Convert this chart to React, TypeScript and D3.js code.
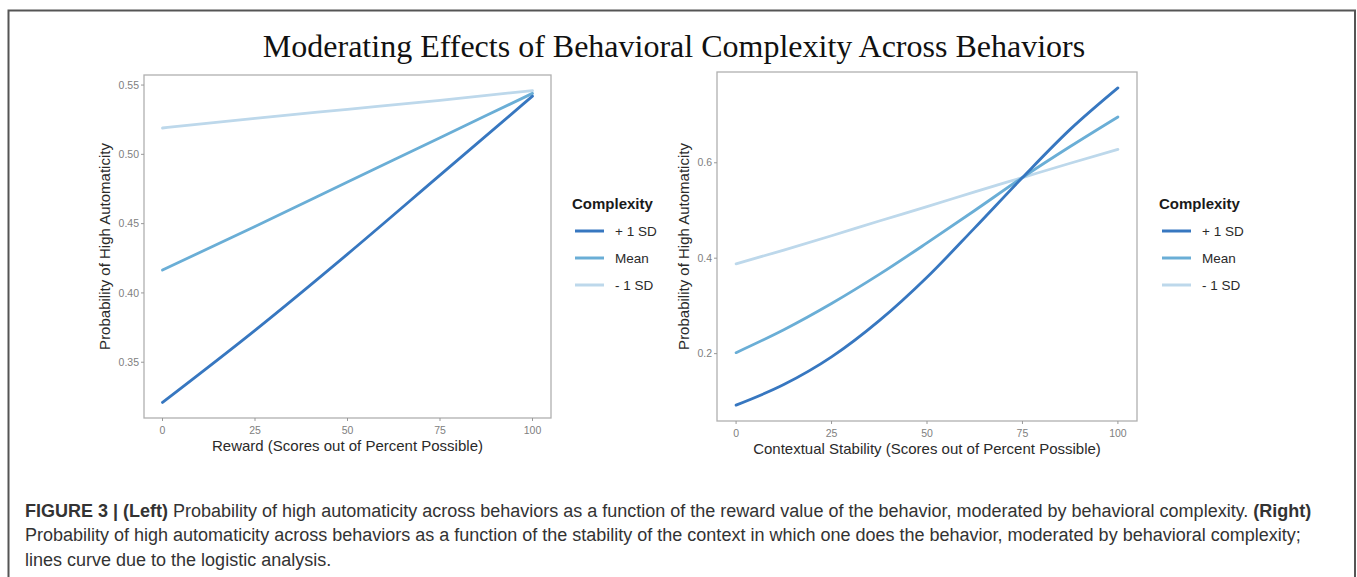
import React from "react"
import * as d3 from "d3"

// left panel: reward
const rewardX = [0, 25, 50, 75, 100]
const rewardPlus1 = [0.321, 0.373, 0.428, 0.485, 0.542]
const rewardMean = [0.4165, 0.448, 0.48, 0.512, 0.544]
const rewardMinus1 = [0.519, 0.526, 0.5325, 0.539, 0.546]
const rewardYTicks = [0.35, 0.4, 0.45, 0.5, 0.55]

// right panel: contextual stability
const stabilityX = [0, 12.5, 25, 37.5, 50, 62.5, 75, 87.5, 100]
const stabilityPlus1 = [0.092, 0.135, 0.193, 0.269, 0.36, 0.4636, 0.569, 0.67, 0.757]
const stabilityMean = [0.202, 0.25, 0.305, 0.366, 0.432, 0.5, 0.569, 0.634, 0.696]
const stabilityMinus1 = [0.388, 0.417, 0.447, 0.478, 0.508, 0.539, 0.569, 0.599, 0.628]
const stabilityYTicks = [0.2, 0.4, 0.6]

const xTicks = [0, 25, 50, 75, 100]
const levels = ["+ 1 SD", "Mean", "- 1 SD"]
const levelColors = ["#3777c0", "#6aaed6", "#bdd8eb"]

const sans = "Liberation Sans, Arial, Helvetica, sans-serif"

interface PanelProps {
  left: number
  right: number
  top: number
  bottom: number
  xs: number[]
  series: number[][]
  yTicks: number[]
  yFormat: string
  xTitle: string
  yTitleX: number
  legendX: number
}

const Panel: React.FC<PanelProps> = ({ left, right, top, bottom, xs, series, yTicks, yFormat, xTitle, yTitleX, legendX }) => {
  const all = series.flat()
  const lo = d3.min(all)!
  const hi = d3.max(all)!
  const pad = (hi - lo) * 0.05
  const x = d3.scaleLinear().domain([-5, 105]).range([left, right])
  const y = d3.scaleLinear().domain([lo - pad, hi + pad]).range([bottom, top])
  const fmt = d3.format(yFormat)
  const line = d3
    .line<number>()
    .x((_, i) => x(xs[i]))
    .y((d) => y(d))
    .curve(d3.curveMonotoneX)

  return (
    <g fontFamily={sans}>
      <rect x={left} y={top} width={right - left} height={bottom - top} fill="white" stroke="#b0b0b0" strokeWidth={1.3} />
      {series.slice().reverse().map((s, k) => {
        const i = series.length - 1 - k
        return <path key={i} d={line(s) ?? ""} fill="none" stroke={levelColors[i]} strokeWidth={2.8} strokeLinecap="round" />
      })}
      {yTicks.map((t) => (
        <g key={t}>
          <line x1={left - 3} x2={left} y1={y(t)} y2={y(t)} stroke="#999" strokeWidth={1} />
          <text x={left - 5} y={y(t)} dy="0.35em" textAnchor="end" fontSize={10.5} fill="#808080">{fmt(t)}</text>
        </g>
      ))}
      {xTicks.map((t) => (
        <g key={t}>
          <line x1={x(t)} x2={x(t)} y1={bottom} y2={bottom + 3} stroke="#999" strokeWidth={1} />
          <text x={x(t)} y={bottom + 12} dy="0.35em" textAnchor="middle" fontSize={10.5} fill="#808080">{t}</text>
        </g>
      ))}
      <text x={(x(0) + x(100)) / 2} y={bottom + 28} dy="0.35em" textAnchor="middle" fontSize={15} fill="#2a2a2a">{xTitle}</text>
      <text
        transform={`translate(${yTitleX},${(top + bottom) / 2}) rotate(-90)`}
        dy="0.35em"
        textAnchor="middle"
        fontSize={15}
        fill="#2a2a2a"
      >
        Probability of High Automaticity
      </text>
      <text x={legendX - 3} y={204} dy="0.35em" fontSize={15} fontWeight="bold" fill="#1a1a1a">Complexity</text>
      {levels.map((lv, i) => (
        <g key={lv}>
          <line x1={legendX} x2={legendX + 29} y1={231 + i * 27} y2={231 + i * 27} stroke={levelColors[i]} strokeWidth={3} />
          <text x={legendX + 40} y={231 + i * 27} dy="0.35em" fontSize={13.5} fill="#2a2a2a">{lv}</text>
        </g>
      ))}
    </g>
  )
}

const App: React.FC = () => {
  return (
    <svg
      width={1357}
      height={577}
      style={{ position: "absolute", left: 0, top: 0, background: "white" }}
    >
      <path d="M8.5,600 V10.5 H1355 V600" fill="none" stroke="#555" strokeWidth={2} />
      <text
        x={674}
        y={57}
        textAnchor="middle"
        fontFamily="Liberation Serif, Times New Roman, serif"
        fontSize={32}
        fill="#111"
      >
        Moderating Effects of Behavioral Complexity Across Behaviors
      </text>
      <Panel
        left={144}
        right={551}
        top={75}
        bottom={418}
        xs={rewardX}
        series={[rewardPlus1, rewardMean, rewardMinus1]}
        yTicks={rewardYTicks}
        yFormat=".2f"
        xTitle="Reward (Scores out of Percent Possible)"
        yTitleX={105}
        legendX={575}
      />
      <Panel
        left={717}
        right={1137}
        top={72}
        bottom={421}
        xs={stabilityX}
        series={[stabilityPlus1, stabilityMean, stabilityMinus1]}
        yTicks={stabilityYTicks}
        yFormat=".1f"
        xTitle="Contextual Stability (Scores out of Percent Possible)"
        yTitleX={684}
        legendX={1162}
      />
      <g fontFamily={sans} fontSize={18} fill="#333">
        <text x={25} y={517}>
          <tspan fontWeight="bold">FIGURE 3 | (Left)</tspan>
          {" Probability of high automaticity across behaviors as a function of the reward value of the behavior, moderated by behavioral complexity. "}
          <tspan fontWeight="bold">(Right)</tspan>
        </text>
        <text x={25} y={541}>
          Probability of high automaticity across behaviors as a function of the stability of the context in which one does the behavior, moderated by behavioral complexity;
        </text>
        <text x={25} y={566}>lines curve due to the logistic analysis.</text>
      </g>
    </svg>
  )
}

export default App
